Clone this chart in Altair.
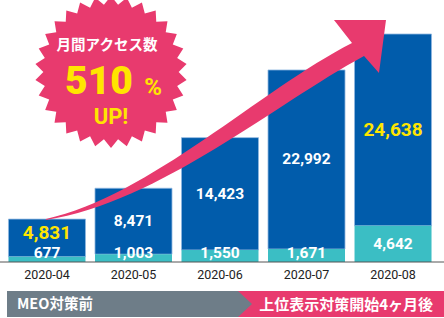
import altair as alt
import numpy as np
import pandas as pd

# ---------------- data ----------------
months = ["2020-04", "2020-05", "2020-06", "2020-07", "2020-08"]
lower_vals = [677, 1003, 1550, 1671, 4642]        # teal segment
upper_vals = [4831, 8471, 14423, 22992, 24638]    # blue segment
highlight_months = ["2020-04", "2020-08"]

badge_title = "月間アクセス数"
badge_number = "510"
badge_unit = "%"
badge_up = "UP!"
phase_before = "MEO対策前"
phase_after = "上位表示対策開始4ヶ月後"

# ---------------- style ----------------
BLUE = "#015CAB"
TEAL = "#3BBEC4"
PINK = "#E83A6E"
YELLOW = "#FFE500"
GRAY = "#6E7D88"
FONT = "Roboto, 'Noto Sans CJK JP', sans-serif"
JFONT = "'Noto Sans CJK JP', Roboto, sans-serif"

df = pd.DataFrame({"month": months, "lower": lower_vals, "upper": upper_vals})
one = pd.DataFrame({"k": [0]})


def symbol(cmds, cx, cy, half):
    """Build a custom symbol path (unit square) from pixel-space commands."""
    parts = []
    for c, pts in cmds:
        coords = " ".join(f"{(x - cx) / half:.4f},{(y - cy) / half:.4f}" for x, y in pts)
        parts.append(f"{c}{coords}")
    return "".join(parts) + "Z", (2 * half) ** 2


# pink growth arrow (decoration)
arrow_path, arrow_size = symbol(
    [
        ("M", [(46, 219)]),
        ("C", [(150, 196), (260, 90), (352, 43)]),
        ("L", [(334, 20)]),
        ("L", [(386, 20)]),
        ("L", [(379, 73)]),
        ("L", [(364, 56)]),
        ("C", [(275, 104), (160, 202), (46, 220)]),
    ],
    216, 120, 170,
)

# starburst badge
n_spikes = 30
ang = np.arange(2 * n_spikes) * np.pi / n_spikes
rad = np.where(np.arange(2 * n_spikes) % 2 == 0, 1.0, 0.89)
star_path = "M" + "L".join(f"{r * np.sin(a):.4f},{-r * np.cos(a):.4f}" for r, a in zip(rad, ang)) + "Z"
STAR_CX, STAR_CY, STAR_R = 111, 72, 76

# gray phase banner (pentagon pointing right)
banner_path, banner_size = symbol(
    [("M", [(7, 291)]), ("L", [(238, 291)]), ("L", [(252, 304)]), ("L", [(238, 317)]), ("L", [(7, 317)])],
    129.5, 304, 122.5,
)

# ---------------- chart ----------------
xenc = alt.X(
    "month:N",
    sort=months,
    scale=alt.Scale(range=[0, 440], paddingInner=0.11, paddingOuter=0.098),
    axis=alt.Axis(
        title=None, labelAngle=0, domain=False, ticks=False, grid=False,
        labelFont=FONT, labelFontSize=12.5, labelColor="#222222", labelPadding=6,
    ),
)
yscale = alt.Scale(domain=[0, 33650], nice=False, zero=True)

base = alt.Chart(df).transform_calculate(
    total="datum.lower + datum.upper",
    upper_mid="max((datum.lower + datum.lower + datum.upper) / 2, 3700)",
    lower_mid="max(datum.lower / 2, 1200)",
)

bar_upper = base.mark_bar(color=BLUE, stroke="#8FB6E0", strokeWidth=0.8).encode(
    x=xenc,
    y=alt.Y("total:Q", scale=yscale, axis=None),
    y2="lower:Q",
)
bar_lower = base.mark_bar(color=TEAL).encode(
    x=xenc,
    y=alt.Y("lower:Q", scale=yscale, axis=None),
    y2=alt.datum(0),
)

is_hi = alt.FieldOneOfPredicate(field="month", oneOf=highlight_months)
label_upper = base.mark_text(font=FONT, fontWeight="bold", baseline="middle", align="center").encode(
    x=xenc,
    y=alt.Y("upper_mid:Q", scale=yscale, axis=None),
    text=alt.Text("upper:Q", format=","),
    color=alt.condition(is_hi, alt.value(YELLOW), alt.value("white")),
    size=alt.condition(is_hi, alt.value(19), alt.value(15.5)),
)
label_lower = base.mark_text(font=FONT, fontWeight="bold", baseline="middle", align="center",
                             color="white", fontSize=15.5).encode(
    x=xenc,
    y=alt.Y("lower_mid:Q", scale=yscale, axis=None),
    text=alt.Text("lower:Q", format=","),
)

baseline = alt.Chart(one).mark_rule(color="#555555", strokeWidth=1).encode(
    x=alt.value(0), x2=alt.value(444), y=alt.value(262)
)

arrow = alt.Chart(one).mark_point(
    shape=arrow_path, filled=True, opacity=1, strokeWidth=0, color=PINK
).encode(x=alt.value(216), y=alt.value(120), size=alt.value(arrow_size))

star = alt.Chart(one).mark_point(
    shape=star_path, filled=True, opacity=1, strokeWidth=0, color=PINK
).encode(x=alt.value(STAR_CX), y=alt.value(STAR_CY), size=alt.value((2 * STAR_R) ** 2))

t_title = alt.Chart(one).mark_text(
    text=badge_title, font=JFONT, fontWeight="bold", fontSize=14.5, color="white",
    align="center", baseline="middle",
).encode(x=alt.value(107), y=alt.value(46))
t_num = alt.Chart(one).mark_text(
    text=badge_number, font=FONT, fontWeight=900, fontSize=39, color=YELLOW,
    align="center", baseline="alphabetic",
).encode(x=alt.value(99), y=alt.value(94))
t_unit = alt.Chart(one).mark_text(
    text=badge_unit, font=FONT, fontWeight="bold", fontSize=24, color=YELLOW,
    align="center", baseline="alphabetic",
).encode(x=alt.value(153), y=alt.value(95))
t_up = alt.Chart(one).mark_text(
    text=badge_up, font=FONT, fontWeight="bold", fontSize=22, color=YELLOW,
    align="center", baseline="alphabetic",
).encode(x=alt.value(111), y=alt.value(124))

pink_band = alt.Chart(one).mark_rect(color=PINK).encode(
    x=alt.value(236), x2=alt.value(444), y=alt.value(291), y2=alt.value(317)
)
gray_band = alt.Chart(one).mark_point(
    shape=banner_path, filled=True, opacity=1, strokeWidth=0, color=GRAY
).encode(x=alt.value(129.5), y=alt.value(304), size=alt.value(banner_size))
t_before = alt.Chart(one).mark_text(
    text=phase_before, font=JFONT, fontWeight="bold", fontSize=14.5, color="white",
    align="left", baseline="middle",
).encode(x=alt.value(17), y=alt.value(305))
t_after = alt.Chart(one).mark_text(
    text=phase_after, font=JFONT, fontWeight="bold", fontSize=15, color="white",
    align="right", baseline="middle",
).encode(x=alt.value(433), y=alt.value(305))

chart = alt.layer(
    bar_upper, bar_lower, label_upper, label_lower, baseline,
    arrow, star, t_title, t_num, t_unit, t_up,
    pink_band, gray_band, t_before, t_after,
).properties(
    width=444,
    height=262,
    autosize=alt.AutoSizeParams(type="none"),
    padding={"left": 0, "top": 0, "right": 0, "bottom": 56},
    background="white",
).configure_view(stroke=None)

chart.save("out.html", embed_options={"renderer": "svg", "actions": False})
